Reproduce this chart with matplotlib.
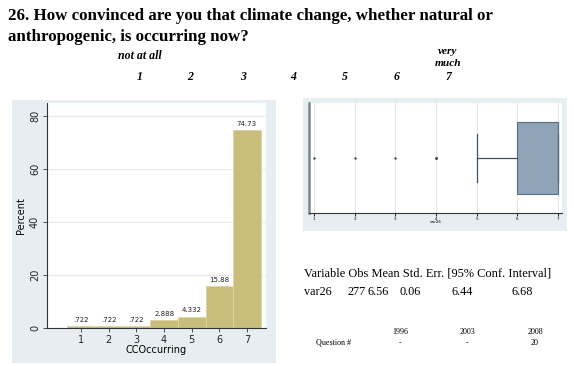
import matplotlib
matplotlib.use("Agg")
import matplotlib.pyplot as plt
from matplotlib.patches import Rectangle
import numpy as np

# Data
categories = [1, 2, 3, 4, 5, 6, 7]
percent = [0.722, 0.722, 0.722, 2.888, 4.332, 15.88, 74.73]
bar_labels = ['.722', '.722', '.722', '2.888', '4.332', '15.88', '74.73']
counts = [2, 2, 2, 8, 12, 44, 207]  # n = 277
scale_labels = ['1', '2', '3', '4', '5', '6', '7']
stats_header = "Variable Obs Mean Std. Err. [95% Conf. Interval]"
stats_row = ['var26', '277', '6.56', '0.06', '6.44', '6.68']
years = ['1996', '2003', '2008']
question_nums = ['-', '-', '20']

W, H = 574, 366
fig = plt.figure(figsize=(W / 100, H / 100), dpi=100)
fig.patch.set_facecolor('white')

def fx(px):
    return px / W

def fy(py):
    return 1 - py / H

serif = 'Liberation Serif'
bg = '#e7eef2'

# Title
fig.text(fx(8), fy(16), "26. How convinced are you that climate change, whether natural or",
         fontsize=12.2, fontweight='bold', family=serif, va='center', ha='left')
fig.text(fx(8), fy(37), "anthropogenic, is occurring now?",
         fontsize=12.2, fontweight='bold', family=serif, va='center', ha='left')

# Scale header
scale_x = [140, 190, 243, 293, 345, 397, 448]
fig.text(fx(140), fy(56), "not at all", fontsize=8.6, style='italic', fontweight='bold',
         family=serif, ha='center', va='center')
fig.text(fx(448), fy(51), "very", fontsize=8.2, style='italic', fontweight='bold',
         family=serif, ha='center', va='center')
fig.text(fx(448), fy(64), "much", fontsize=8.2, style='italic', fontweight='bold',
         family=serif, ha='center', va='center')
for x, s in zip(scale_x, scale_labels):
    fig.text(fx(x), fy(77), s, fontsize=8.5, style='italic', fontweight='bold',
             family=serif, ha='center', va='center')

# Panel backgrounds (behind the axes)
fig.patches.append(Rectangle((fx(12), fy(363)), fx(264), 263 / H, transform=fig.transFigure,
                             facecolor=bg, edgecolor='none', zorder=-5))
fig.patches.append(Rectangle((fx(303), fy(231)), fx(264), 133 / H, transform=fig.transFigure,
                             facecolor=bg, edgecolor='none', zorder=-5))

# Histogram
ax = fig.add_axes([fx(47), fy(328), fx(219), 225 / H])
ax.set_zorder(2)
ax.set_facecolor('white')
ax.bar(categories, percent, width=1.0, color='#c9bd7b', edgecolor='#ddd4a4', linewidth=0.6, zorder=2)
for c, p, lab in zip(categories, percent, bar_labels):
    ax.text(c, p + 1.2, lab, ha='center', va='bottom', fontsize=5, color='#222222')
ax.set_xlim(-0.24, 7.69)
ax.set_ylim(0, 85)
ax.set_yticks([0, 20, 40, 60, 80])
ax.set_xticks(categories)
ax.yaxis.grid(True, color='#e4eaee', linewidth=0.8, zorder=0)
ax.set_axisbelow(True)
for s in ['top', 'right']:
    ax.spines[s].set_visible(False)
for s in ['left', 'bottom']:
    ax.spines[s].set_color('#333333')
    ax.spines[s].set_linewidth(0.8)
ax.tick_params(axis='both', labelsize=7, length=3, width=0.6, color='#333333',
               labelcolor='#222222', pad=2)
for lab in ax.get_yticklabels():
    lab.set_rotation(90)
    lab.set_va('center')
ax.set_ylabel('Percent', fontsize=7, labelpad=3)
ax.set_xlabel('CCOccurring', fontsize=7, labelpad=0)

# Box plot
bx = fig.add_axes([fx(309), fy(213), fx(253), 110 / H])
bx.set_zorder(2)
bx.set_facecolor('white')
sample = np.repeat(categories, counts)
bx.boxplot(sample, vert=False, positions=[0], widths=0.72, whis=1.5, capwidths=0.48,
           patch_artist=True,
           boxprops=dict(facecolor='#8ea3b6', edgecolor='#586d80', linewidth=0.8),
           medianprops=dict(color='#586d80', linewidth=0.8),
           whiskerprops=dict(color='#3e5060', linewidth=0.9),
           capprops=dict(color='#3e5060', linewidth=0.9),
           flierprops=dict(marker='o', markersize=1.5, markerfacecolor='#3e5060',
                           markeredgewidth=0))
bx.set_xlim(0.88, 7.1)
bx.set_ylim(-0.55, 0.55)
bx.set_yticks([])
bx.set_xticks(categories)
bx.xaxis.grid(True, color='#e2e6ea', linewidth=0.7)
bx.set_axisbelow(True)
for s in ['top', 'right']:
    bx.spines[s].set_visible(False)
bx.spines['left'].set_color('#7c868f')
bx.spines['left'].set_linewidth(1.8)
bx.spines['bottom'].set_color('#333333')
bx.spines['bottom'].set_linewidth(0.8)
bx.tick_params(axis='x', labelsize=3, length=2, width=0.6, pad=1)
bx.set_xlabel('var26', fontsize=3, labelpad=-1)

# Summary statistics
fig.text(fx(304), fy(273), stats_header, fontsize=8.9, family=serif, ha='left', va='center')
row_x = [304, 348, 368, 399, 451, 512]
for x, s in zip(row_x, stats_row):
    fig.text(fx(x), fy(292), s, fontsize=8.8, family=serif, ha='left', va='center')

# Question numbers
year_x = [400, 467, 535]
for x, y, q in zip(year_x, years, question_nums):
    fig.text(fx(x), fy(332), y, fontsize=5.8, family=serif, ha='center', va='center')
    fig.text(fx(x), fy(343), q, fontsize=5.8, family=serif, ha='center', va='center')
fig.text(fx(333), fy(343), 'Question #', fontsize=5.8, family=serif, ha='center', va='center')

fig.savefig('out.png', dpi=100)
